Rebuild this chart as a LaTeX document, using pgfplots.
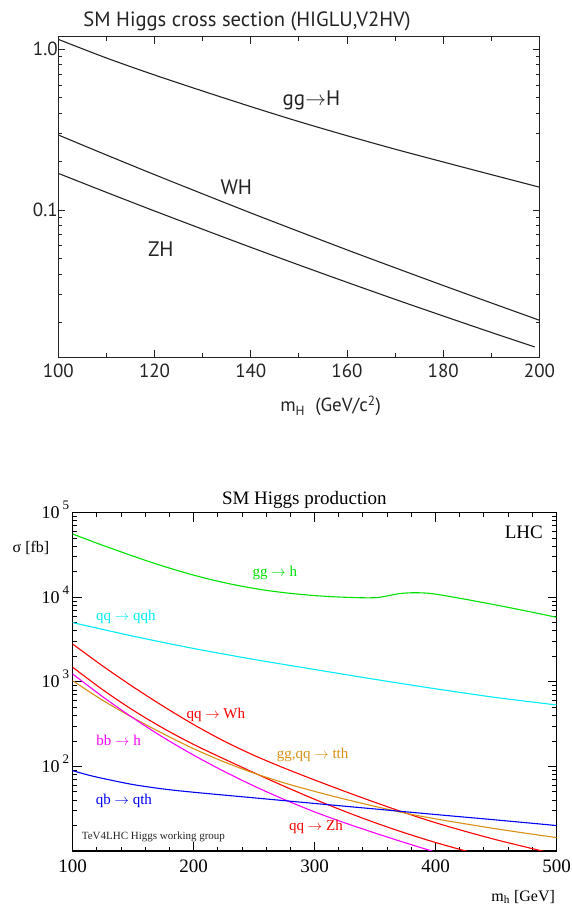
\documentclass[border=0pt]{standalone}
\usepackage{fontspec}
\setmainfont{Liberation Serif}
\newfontfamily\topfont{PT Sans}
\usepackage{pgfplots}
\pgfplotsset{compat=1.18}
\definecolor{hgreen}{RGB}{0,225,0}
\definecolor{hcyan}{RGB}{0,235,245}
\definecolor{hred}{RGB}{250,0,0}
\definecolor{hmag}{RGB}{250,0,250}
\definecolor{horange}{RGB}{215,145,20}
\definecolor{hblue}{RGB}{0,0,245}
\definecolor{tgray}{RGB}{35,35,35}
\newcommand{\sxp}[1]{\,\raisebox{0.5em}{\fontsize{13}{13}\selectfont #1}}
\begin{document}
\begin{tikzpicture}
\useasboundingbox (0,0) rectangle (571pt,907pt);
% ---------------- top plot ----------------
\begin{axis}[
  at={(58.3pt,549.7pt)}, anchor=south west,
  scale only axis, width=481.2pt, height=320.6pt,
  xmin=100, xmax=200, ymode=log, ymin=0.01212, ymax=1.198,
  clip mode=individual,
  axis line style={line width=1.1pt, tgray},
  every tick/.style={line width=0.9pt, tgray},
  tick align=inside,
  major tick length=7pt, minor tick length=4pt,
  xtick={100,120,140,160,180,200},
  minor xtick={110,130,150,170,190},
  ytick={0.1,1}, yticklabels={0.1,1.0},
  minor ytick={0.02,0.03,0.04,0.05,0.06,0.07,0.08,0.09,0.2,0.3,0.4,0.5,0.6,0.7,0.8,0.9},
  /pgf/number format/assume math mode=true,
  ticklabel style={font=\topfont\fontsize{19}{19}\selectfont, text=tgray},
  xticklabel style={yshift=-3pt},
  yticklabel style={xshift=3pt},
]
\addplot[tgray, line width=1.1pt, smooth] coordinates {
(100,1.153) (110,0.883) (120,0.692) (130,0.550) (140,0.440) (150,0.355)
(160,0.290) (170,0.239) (180,0.199) (190,0.166) (200,0.1387)};
\addplot[tgray, line width=1.1pt, smooth] coordinates {
(100,0.293) (110,0.220) (120,0.166) (130,0.126) (140,0.0959) (150,0.0735)
(160,0.0565) (170,0.0437) (180,0.0339) (190,0.0264) (200,0.0206)};
\addplot[tgray, line width=1.1pt, smooth] coordinates {
(100,0.169) (110,0.1288) (120,0.0986) (130,0.0759) (140,0.0586) (150,0.0455)
(160,0.0355) (170,0.0278) (180,0.0219) (190,0.0173) (199,0.01406)};
\node[font=\topfont\fontsize{21}{21}\selectfont, text=tgray] at (rel axis cs:0.526,0.8026) {gg$\rightarrow$H};
\node[font=\topfont\fontsize{21}{21}\selectfont, text=tgray] at (rel axis cs:0.370,0.529) {WH};
\node[font=\topfont\fontsize{21}{21}\selectfont, text=tgray] at (rel axis cs:0.213,0.337) {ZH};
\node[font=\topfont\fontsize{20.6}{21}\selectfont, text=tgray, anchor=base west] at (rel axis cs:0.045,1.033) {SM Higgs cross section (HIGLU,V2HV)};
\node[font=\topfont\fontsize{19}{19}\selectfont, text=tgray, anchor=base] at (rel axis cs:0.566,-0.170) {m\textsubscript{H}\ \ (GeV/c\textsuperscript{2})};
\end{axis}
% ---------------- bottom plot ----------------
\begin{axis}[
  at={(72.6pt,56pt)}, anchor=south west,
  scale only axis, width=483.9pt, height=338.3pt,
  xmin=100, xmax=500, ymode=log, ymin=10, ymax=100000,
  clip mode=individual,
  axis line style={line width=1.2pt, black},
  every tick/.style={line width=0.9pt, black},
  tick align=inside,
  major tick length=9pt, minor tick length=4.5pt,
  xtick={100,200,300,400,500},
  minor xtick={120,140,160,180,220,240,260,280,320,340,360,380,420,440,460,480},
  ytick={10,100,1000,10000,100000},
  yticklabels={,10\sxp{2},10\sxp{3},10\sxp{4},10\sxp{5}},
  minor ytick={20,30,40,50,60,70,80,90,200,300,400,500,600,700,800,900,2000,3000,4000,5000,6000,7000,8000,9000,20000,30000,40000,50000,60000,70000,80000,90000},
  /pgf/number format/assume math mode=true,
  xticklabel style={font=\fontsize{19}{19}\selectfont, yshift=-5pt},
  yticklabel style={font=\fontsize{18}{18}\selectfont, anchor=base east, yshift=-6pt},
]
\addplot[hgreen, line width=1.1pt, smooth] coordinates {
(100,56000) (120,43650) (140,34440) (160,27350) (180,22130) (200,18280) (220,15490)
(240,13490) (260,12080) (280,11120) (300,10470) (320,10070) (340,9860) (352,9930)
(362,10500) (370,11050) (380,11300) (390,11250) (400,10900) (425,9450) (450,8100)
(475,6880) (500,5800)};
\addplot[hcyan, line width=1.1pt, smooth] coordinates {
(100,5020) (150,3470) (200,2480) (250,1840) (300,1400) (350,1070) (400,828) (450,653) (500,533)};
\addplot[hred, line width=1.1pt, smooth] coordinates {
(100,2805) (125,1535) (150,873) (175,514) (200,313) (225,200) (250,135) (275,95.5)
(300,69.2) (325,50.7) (350,37.6) (375,28.2) (400,21.6) (425,17.0) (450,13.6) (475,11.1) (500,9.1)};
\addplot[hred, line width=1.1pt, smooth] coordinates {
(100,1490) (125,804) (150,462) (175,282) (200,182) (225,123) (250,84.1) (275,58.2)
(300,40.9) (325,29.4) (350,21.6) (375,16.3) (400,12.6) (425,10.0) (450,8.0)};
\addplot[horange, line width=1.1pt, smooth] coordinates {
(100,1033) (125,603) (150,376) (175,243) (200,162) (225,113.5) (250,83.2) (275,63.8)
(300,50.7) (325,41.0) (350,33.7) (375,28.0) (400,24.0) (425,20.9) (450,18.3) (475,16.2) (500,14.4)};
\addplot[hmag, line width=1.1pt, smooth] coordinates {
(100,1240) (125,665) (150,374) (175,220) (200,136) (225,87.7) (250,58.6) (275,40.6)
(300,29.0) (325,21.5) (350,16.3) (375,12.5) (400,9.7) (425,7.6)};
\addplot[hblue, line width=1.1pt, smooth] coordinates {
(100,89.1) (112.5,79.4) (125,72.1) (150,61.0) (175,54.1) (200,49.5) (250,42.5) (300,36.5)
(350,31.4) (400,27.0) (450,23.3) (500,20.0)};
\node[font=\fontsize{15}{15}\selectfont, text=hgreen] at (rel axis cs:0.418,0.823) {gg $\rightarrow$ h};
\node[font=\fontsize{15}{15}\selectfont, text=hcyan] at (rel axis cs:0.110,0.693) {qq $\rightarrow$ qqh};
\node[font=\fontsize{15}{15}\selectfont, text=hred] at (rel axis cs:0.296,0.402) {qq $\rightarrow$ Wh};
\node[font=\fontsize{15}{15}\selectfont, text=hmag] at (rel axis cs:0.095,0.326) {bb $\rightarrow$ h};
\node[font=\fontsize{15}{15}\selectfont, text=horange] at (rel axis cs:0.496,0.284) {gg,qq $\rightarrow$ tth};
\node[font=\fontsize{15}{15}\selectfont, text=hblue] at (rel axis cs:0.106,0.148) {qb $\rightarrow$ qth};
\node[font=\fontsize{15}{15}\selectfont, text=hred] at (rel axis cs:0.503,0.072) {qq $\rightarrow$ Zh};
\node[font=\fontsize{11}{11}\selectfont, text=tgray, anchor=west] at (rel axis cs:0.0118,0.042) {TeV4LHC Higgs working group};
\node[font=\fontsize{19}{19}\selectfont, anchor=base east] at (rel axis cs:0.979,0.924) {LHC};
\node[font=\fontsize{19}{19}\selectfont, anchor=base] at (rel axis cs:0.479,1.0228) {SM Higgs production};
\node[font=\fontsize{16}{16}\selectfont] at (rel axis cs:-0.086,0.896) {σ [fb]};
\node[font=\fontsize{16}{16}\selectfont, anchor=base east] at (rel axis cs:1.004,-0.148) {m\textsubscript{h} [GeV]};
\end{axis}
\end{tikzpicture}
\end{document}
